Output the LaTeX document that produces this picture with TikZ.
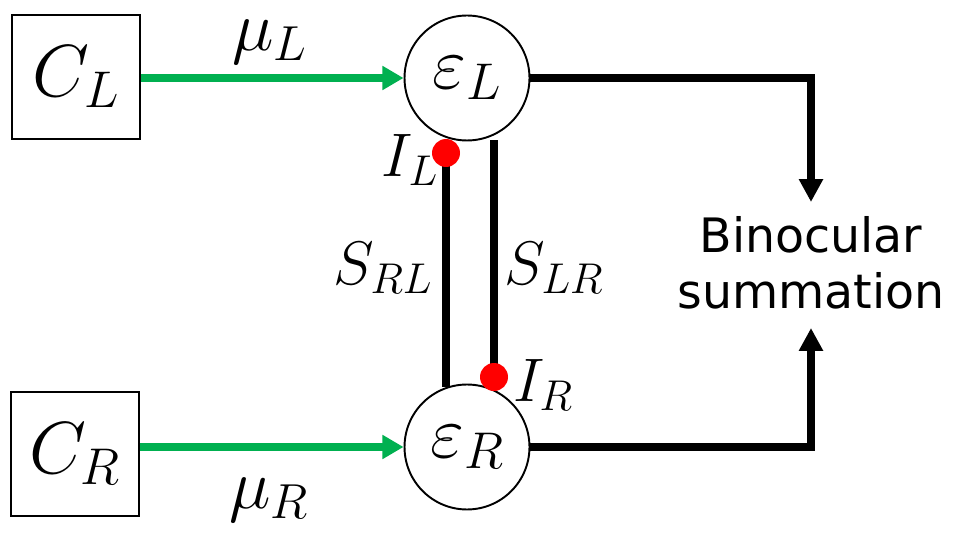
\RequirePackage{fix-cm}
\documentclass[tikz,border=0pt]{standalone}
\usepackage{amsmath,amssymb}
\usepackage{fontspec}
\usepackage{xcolor}
\usepackage{tikz}
\usetikzlibrary{arrows.meta,positioning}
\newfontfamily\sumfont{DejaVu Sans}
\definecolor{drivegreen}{RGB}{0,176,80}
\tikzset{
  srcbox/.style={rectangle,draw=black,line width=1.1pt,minimum width=2.56cm,minimum height=2.48cm,inner sep=0pt,font=\fontsize{42}{46}\selectfont},
  unit/.style={circle,draw=black,line width=1.1pt,minimum size=2.5cm,inner sep=0pt,font=\fontsize{42}{46}\selectfont},
  inh/.style={circle,fill=red,minimum size=0.56cm,inner sep=0pt},
  drive/.style={line width=4.5pt,drivegreen,-{Triangle[length=12pt,width=13pt]}},
  sumedge/.style={line width=4pt,black,-{Triangle[length=13pt,width=13pt]}},
  syn/.style={line width=4pt,black},
  biglab/.style={font=\fontsize{40}{44}\selectfont,inner sep=1pt},
  lab/.style={font=\fontsize{35}{40}\selectfont,inner sep=1pt},
  sumlab/.style={font=\sumfont\fontsize{27}{32}\selectfont,align=center}
}
\begin{document}
\begin{tikzpicture}[x=0.02cm,y=-0.02cm]
  \useasboundingbox (0,0) rectangle (954,540);
  % sources and monocular units
  \node[srcbox] (CL) at (76,77) {$C_L$};
  \node[srcbox] (CR) at (75,454) {$C_R$};
  \node[unit] (eL) at (467,78) {$\varepsilon_L$};
  \node[unit] (eR) at (467,447) {$\varepsilon_R$};
  \draw[drive] (CL.east |- eL.west) -- (eL.west);
  \draw[drive] (CR.east |- eR.west) -- (eR.west);
  \node[biglab] (muL) at (270,42) {$\mu_L$};
  \node[biglab] (muR) at (269,500) {$\mu_R$};

  % binocular summation
  \node[sumlab] (sum) at (811,263) {Binocular\\summation};
  \coordinate (sumtop) at (811,202);
  \coordinate (sumbot) at (811,328);
  \draw[sumedge] (eL.east) -| (sumtop);
  \draw[sumedge] (eR.east) -| (sumbot);

  % interocular suppression
  \coordinate (IL) at (446,153);
  \coordinate (IR) at (494,377);
  \coordinate (sLRtop) at (494,140);
  \draw[syn] (IL) -- (IL |- eR.110);
  \draw[syn] (IR) -- (sLRtop);
  \node[inh] (ILdot) at (IL) {};
  \node[inh] (IRdot) at (IR) {};
  \node[lab] (lIL) at (410,160) {$I_L$};
  \node[lab] (lIR) at (543,385) {$I_R$};
  \node[lab] (lSRL) at (383,268) {$S_{RL}$};
  \node[lab] (lSLR) at (554,268) {$S_{LR}$};
\end{tikzpicture}
\end{document}
